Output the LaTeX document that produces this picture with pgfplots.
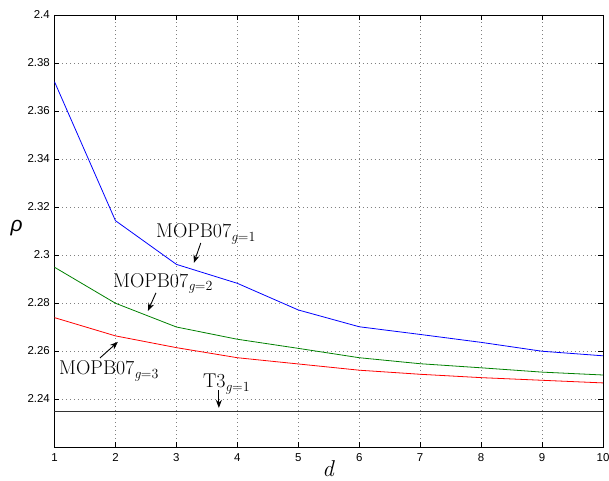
\documentclass[border=0pt]{standalone}
\usepackage{fontspec}
\usepackage{pgfplots}
\pgfplotsset{compat=1.18}
\usetikzlibrary{arrows.meta}
\newfontfamily\helv{Liberation Sans}
\newcommand{\sub}[1]{\textsubscript{\textit{g}=#1}}
\begin{document}
\begin{tikzpicture}
\useasboundingbox (-54.5bp,-34bp) rectangle (554.5bp,447bp);
\begin{axis}[
  scale only axis,
  width=548.5bp, height=432bp,
  xmin=1, xmax=10, ymin=2.22, ymax=2.4,
  xtick={1,2,3,4,5,6,7,8,9,10},
  ytick={2.24,2.26,2.28,2.3,2.32,2.34,2.36,2.38,2.4},
  yticklabels={2.24,2.26,2.28,2.3,2.32,2.34,2.36,2.38,2.4},
  tick align=inside,
  major tick length=5bp,
  axis line style={line width=0.8bp},
  every tick/.style={black, line width=0.6bp},
  grid=major,
  grid style={gray, line width=0.6bp, dash pattern=on 1bp off 3bp},
  /pgf/number format/assume math mode=true,
  tick label style={font=\helv\fontsize{11.5}{13}\selectfont, inner sep=0pt},
  yticklabel style={xshift=-4.5bp},
  xticklabel style={yshift=-6bp},
  xlabel={\textit{d}},
  xlabel style={at={(axis description cs:0.5,0)}, anchor=base, yshift=-29.5bp, font=\fontsize{23}{26}\selectfont, inner sep=0pt},
  ylabel={{\helv\itshape ρ}},
  ylabel style={at={(axis description cs:0,0.5)}, rotate=-90, anchor=base, xshift=-38bp, yshift=-1bp, font=\fontsize{21}{24}\selectfont, inner sep=0pt},
]
\addplot[blue, line width=0.8bp] coordinates {
 (1,2.3722) (2,2.3143) (3,2.2961) (4,2.2882) (5,2.2771) (6,2.2701) (7,2.2669) (8,2.2636) (9,2.2599) (10,2.2580)};
\addplot[green!50!black, line width=0.8bp] coordinates {
 (1,2.2949) (2,2.2799) (3,2.2700) (4,2.2649) (5,2.2611) (6,2.2572) (7,2.2547) (8,2.2530) (9,2.2512) (10,2.2500)};
\addplot[red, line width=0.8bp] coordinates {
 (1,2.2739) (2,2.2663) (3,2.2614) (4,2.2572) (5,2.2546) (6,2.2520) (7,2.2503) (8,2.2489) (9,2.2478) (10,2.2467)};
\addplot[black!80, line width=0.8bp] coordinates {
 (1,2.235) (10,2.235)};
\begin{scope}[font=\fontsize{20}{24}\selectfont]
\node[anchor=base west, inner sep=0pt] at (axis cs:2.664,2.3071) {MOPB07\sub{1}};
\draw[-{Stealth[length=8bp,width=6bp]}, line width=0.9bp] (axis cs:3.40,2.3050) -- (axis cs:3.287,2.2967);
\node[anchor=base west, inner sep=0pt] at (axis cs:1.959,2.2865) {MOPB07\sub{2}};
\draw[-{Stealth[length=8bp,width=6bp]}, line width=0.9bp] (axis cs:2.664,2.2842) -- (axis cs:2.533,2.2767);
\node[anchor=base west, inner sep=0pt] at (axis cs:1.074,2.2500) {MOPB07\sub{3}};
\draw[-{Stealth[length=8bp,width=6bp]}, line width=0.9bp] (axis cs:1.746,2.2571) -- (axis cs:2.041,2.2638);
\node[anchor=base west, inner sep=0pt] at (axis cs:3.434,2.2446) {T3\sub{1}};
\draw[-{Stealth[length=8bp,width=6bp]}, line width=0.9bp] (axis cs:3.697,2.2438) -- (axis cs:3.697,2.2363);
\end{scope}
\end{axis}
\end{tikzpicture}
\end{document}
